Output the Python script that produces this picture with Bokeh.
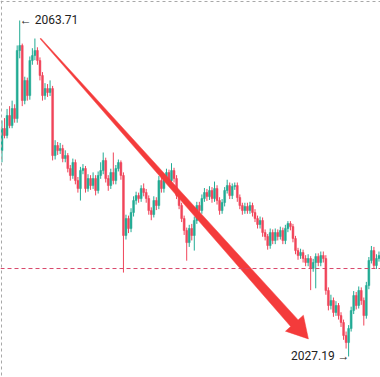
from bokeh.plotting import figure
from bokeh.models import Range1d, Span, ColumnDataSource
from bokeh.core.properties import value
from bokeh.embed import file_html
from bokeh.resources import INLINE
import math

first_open = 2049.57
closes = [
    2051.97, 2051.21, 2053.38, 2052.29, 2054.14, 2053.05, 2060.45, 2060.99, 2055.01, 2057.18,
    2055.55, 2059.36, 2059.90, 2060.45, 2059.36, 2057.73, 2055.55, 2056.31, 2055.88, 2056.31,
    2049.03, 2050.12, 2049.57, 2049.79, 2048.71, 2049.03, 2047.62, 2046.86, 2048.27, 2046.31,
    2045.44, 2047.40, 2047.62, 2045.44, 2046.53, 2045.77, 2046.53, 2045.23, 2046.86, 2047.40,
    2048.49, 2046.53, 2045.77, 2047.18, 2046.31, 2047.62, 2048.27, 2046.86, 2040.34, 2042.18,
    2041.10, 2042.84, 2044.14, 2044.68, 2044.36, 2045.44, 2045.01, 2044.36, 2043.05, 2042.62,
    2044.14, 2043.60, 2046.31, 2045.44, 2046.53, 2047.18, 2046.31, 2047.40, 2046.53, 2044.68,
    2043.60, 2042.18, 2040.88, 2039.57, 2041.10, 2040.34, 2041.97, 2043.60, 2043.05, 2044.36,
    2045.01, 2044.57, 2045.23, 2044.36, 2045.44, 2044.14, 2043.05, 2043.92, 2045.23, 2045.77,
    2044.68, 2045.66, 2045.77, 2044.47, 2043.60, 2043.05, 2043.49, 2043.05, 2043.60, 2042.84,
    2042.18, 2041.53, 2041.97, 2040.66, 2040.23, 2039.25, 2040.66, 2039.79, 2040.66, 2040.23,
    2040.88, 2039.79, 2041.10, 2041.64, 2041.31, 2040.01, 2038.70, 2038.16, 2038.49, 2037.84,
    2037.40, 2037.84, 2036.75, 2037.40, 2038.05, 2037.40, 2038.16, 2037.84, 2034.36, 2032.73,
    2033.27, 2031.97, 2032.73, 2031.64, 2030.88, 2029.47, 2028.70, 2030.23, 2032.18, 2033.81,
    2032.73, 2034.36, 2033.27, 2031.64, 2034.90, 2037.62, 2038.70, 2037.07, 2037.84, 2038.16,
]
highs = [
    2052.84, 2053.1, 2054.1, 2054.4, 2055.0, 2054.6, 2061.0, 2063.71, 2061.2, 2057.6,
    2057.5, 2059.8, 2060.7, 2061.75, 2060.8, 2059.7, 2058.1, 2056.9, 2056.8, 2057.2,
    2056.6, 2050.7, 2050.5, 2050.4, 2050.2, 2049.6, 2049.3, 2048.0, 2048.7, 2048.6,
    2046.7, 2047.8, 2048.1, 2047.9, 2047.0, 2046.9, 2047.2, 2046.9, 2047.3, 2048.3,
    2049.36, 2048.8, 2046.9, 2047.6, 2049.36, 2048.0, 2048.6, 2048.5, 2047.2, 2042.6,
    2042.5, 2043.3, 2044.6, 2045.1, 2045.0, 2045.8, 2046.0, 2045.4, 2044.7, 2043.4,
    2044.6, 2044.5, 2046.8, 2046.7, 2047.0, 2047.6, 2047.5, 2048.2, 2047.7, 2046.9,
    2045.0, 2043.9, 2042.5, 2041.2, 2041.5, 2041.6, 2042.4, 2044.0, 2044.0, 2044.8,
    2045.5, 2045.4, 2045.7, 2045.6, 2046.2, 2045.8, 2044.5, 2044.3, 2045.6, 2046.4,
    2046.1, 2046.0, 2046.1, 2046.1, 2044.8, 2043.9, 2043.9, 2043.9, 2044.0, 2043.9,
    2043.2, 2042.5, 2042.4, 2042.3, 2041.0, 2040.5, 2041.1, 2041.0, 2041.1, 2041.0,
    2041.3, 2041.2, 2041.5, 2041.9, 2041.9, 2041.6, 2040.3, 2039.0, 2038.9, 2038.8,
    2038.2, 2038.3, 2038.1, 2037.8, 2038.4, 2038.4, 2038.6, 2038.6, 2038.2, 2034.7,
    2033.9, 2033.6, 2033.2, 2033.0, 2032.0, 2031.2, 2029.9, 2030.6, 2032.6, 2034.3,
    2034.2, 2034.8, 2034.7, 2033.6, 2035.3, 2038.0, 2039.2, 2039.1, 2038.3, 2038.6,
]
lows = [
    2048.3, 2050.9, 2050.9, 2052.0, 2052.0, 2052.6, 2052.6, 2059.6, 2054.4, 2054.6,
    2055.0, 2055.1, 2058.9, 2059.4, 2058.9, 2057.2, 2055.0, 2055.1, 2055.4, 2055.5,
    2048.5, 2048.6, 2049.1, 2049.2, 2048.3, 2048.3, 2047.2, 2046.3, 2046.5, 2045.9,
    2045.0, 2044.14, 2047.0, 2045.0, 2045.1, 2045.3, 2045.4, 2044.7, 2044.9, 2046.5,
    2047.0, 2046.1, 2045.2, 2045.4, 2045.9, 2045.9, 2047.3, 2046.4, 2036.31, 2039.9,
    2040.6, 2040.7, 2042.4, 2043.7, 2043.9, 2044.0, 2044.6, 2043.9, 2042.6, 2042.0,
    2042.3, 2043.1, 2043.2, 2045.0, 2045.0, 2046.1, 2045.9, 2045.9, 2046.1, 2044.3,
    2043.2, 2041.8, 2040.4, 2037.6, 2039.1, 2039.8, 2038.7, 2041.6, 2042.6, 2042.7,
    2044.0, 2044.1, 2044.2, 2043.9, 2044.0, 2043.7, 2042.6, 2042.7, 2043.5, 2044.9,
    2044.3, 2044.3, 2045.3, 2044.0, 2043.2, 2042.6, 2042.7, 2042.7, 2042.7, 2042.4,
    2041.8, 2041.1, 2041.1, 2040.2, 2039.8, 2038.8, 2038.9, 2039.4, 2039.4, 2039.8,
    2039.9, 2039.4, 2039.4, 2040.7, 2040.9, 2039.6, 2038.3, 2037.7, 2037.8, 2037.4,
    2037.0, 2037.0, 2034.4, 2036.4, 2034.6, 2037.0, 2037.0, 2037.4, 2033.9, 2032.2,
    2032.3, 2031.5, 2031.6, 2031.2, 2030.4, 2029.0, 2028.05, 2027.19, 2029.9, 2031.8,
    2032.3, 2032.4, 2032.8, 2030.55, 2031.3, 2034.5, 2037.3, 2036.7, 2036.7, 2037.5,
]
level_line = 2036.75
max_label = "\u2190 2063.71"
min_label = "2027.19 \u2192"
max_idx, max_price = 7, 2063.71
min_idx, min_price = 137, 2027.19
arrow_start = (15.2, 2061.75)
arrow_tip = (121.1, 2029.1)

W, H = 380, 377
X0, X1 = -0.593, 149.6
Y0, Y1 = 2024.904, 2065.884

opens = [first_open] + closes[:-1]
idx = list(range(len(closes)))
up_col, dn_col = "#22ab94", "#f0455a"
colors = [up_col if c >= o else dn_col for o, c in zip(opens, closes)]
tops = [max(o, c) for o, c in zip(opens, closes)]
bots = [min(o, c) for o, c in zip(opens, closes)]

src = ColumnDataSource(dict(x=idx, o=opens, c=closes, h=highs, l=lows,
                            top=tops, bot=bots, col=colors))

p = figure(width=W, height=H, output_backend="svg", toolbar_location=None,
           x_range=Range1d(X0, X1), y_range=Range1d(Y0, Y1),
           min_border=0, background_fill_color="white", border_fill_color="white")
p.axis.visible = False
p.grid.visible = False
p.outline_line_color = None

def px2x(px):
    return X0 + px * (X1 - X0) / W

def py2y(py):
    return Y1 - py * (Y1 - Y0) / H

def x2px(x):
    return (x - X0) * W / (X1 - X0)

def y2py(y):
    return (Y1 - y) * H / (Y1 - Y0)

p.add_layout(Span(location=px2x(1), dimension="height", line_color="#a8a8a8",
                  line_width=1, line_dash="3 3"))
p.add_layout(Span(location=py2y(1), dimension="width", line_color="#a8a8a8",
                  line_width=1, line_dash="3 3"))

p.segment(x0="x", y0="h", x1="x", y1="l", color="col", line_width=1, source=src)
p.vbar(x="x", width=0.75, top="top", bottom="bot", fill_color="col",
       line_color="col", line_width=0.5, source=src)

p.add_layout(Span(location=level_line, dimension="width", line_color="#d9486a",
                  line_width=1, line_dash="4 3"))

sx, sy = x2px(arrow_start[0]), y2py(arrow_start[1])
tx, ty = x2px(arrow_tip[0]), y2py(arrow_tip[1])
dx, dy = tx - sx, ty - sy
L = math.hypot(dx, dy)
ux, uy = dx / L, dy / L
nx, ny = uy, -ux
head_len, head_half, shaft_end, shaft_start = 21.0, 12.0, 5.0, 0.5
bx, by = tx - head_len * ux, ty - head_len * uy
pts = [
    (sx + shaft_start * nx, sy + shaft_start * ny),
    (bx + shaft_end * nx, by + shaft_end * ny),
    (bx + head_half * nx, by + head_half * ny),
    (tx, ty),
    (bx - head_half * nx, by - head_half * ny),
    (bx - shaft_end * nx, by - shaft_end * ny),
    (sx - shaft_start * nx, sy - shaft_start * ny),
]
p.patch([px2x(a) for a, b in pts], [py2y(b) for a, b in pts],
        fill_color="#f43b3b", line_color="#f43b3b", line_width=0.5)

p.text(x=[max_idx], y=[max_price], text=[max_label], x_offset=0,
       text_font=value("Roboto"), text_font_size="12px", text_color="#222222",
       text_align="left", text_baseline="middle")
p.text(x=[min_idx], y=[min_price], text=[min_label], x_offset=1,
       text_font=value("Roboto"), text_font_size="12px", text_color="#222222",
       text_align="right", text_baseline="middle")

open("out.html", "w").write(file_html(p, INLINE))
